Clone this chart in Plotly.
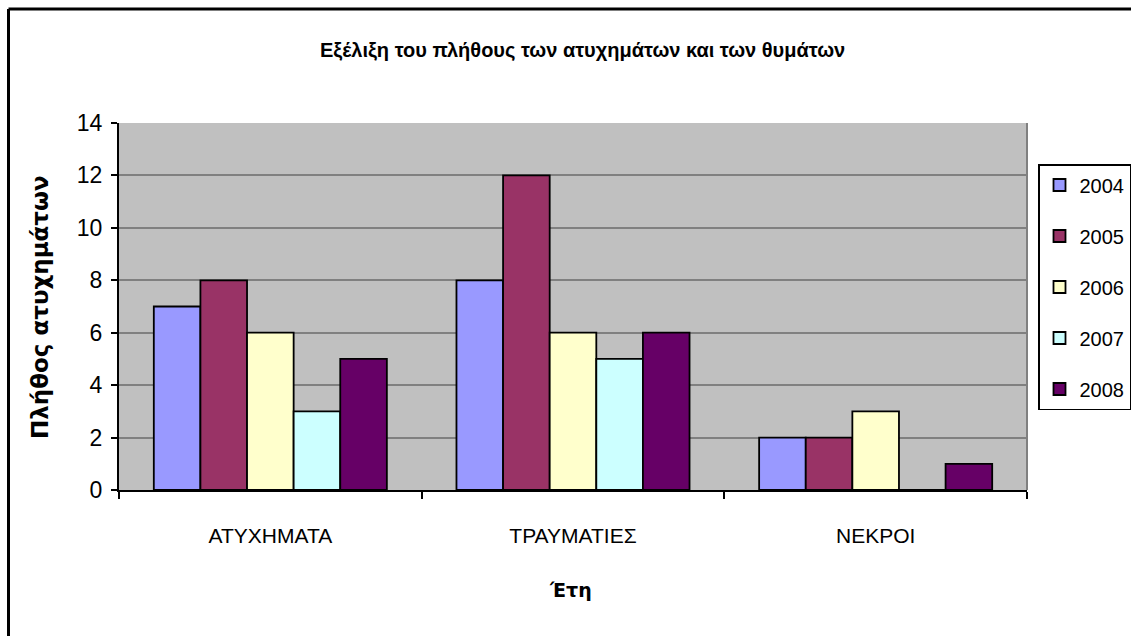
import plotly.graph_objects as go

# Categories and yearly counts
categories = ["ΑΤΥΧΗΜΑΤΑ", "ΤΡΑΥΜΑΤΙΕΣ", "ΝΕΚΡΟΙ"]
years = ["2004", "2005", "2006", "2007", "2008"]
values_2004 = [7, 8, 2]
values_2005 = [8, 12, 2]
values_2006 = [6, 6, 3]
values_2007 = [3, 5, 0]
values_2008 = [5, 6, 1]
year_colors = ["#9999FF", "#993366", "#FFFFCC", "#CCFFFF", "#660066"]
y_ticks = [0, 2, 4, 6, 8, 10, 12, 14]

series = [values_2004, values_2005, values_2006, values_2007, values_2008]

NARROW = "Liberation Sans Narrow, Arial Narrow, Liberation Sans, sans-serif"
WIDE_BOLD = "DejaVu Sans, Verdana, sans-serif"

W, H = 1131, 636
L, R, T, B = 119, 1027, 123, 490

fig = go.Figure()
for year, vals, col in zip(years, series, year_colors):
    fig.add_trace(go.Bar(
        x=categories, y=vals, name=year, legendgroup=year,
        marker=dict(color=col, line=dict(color="black", width=1.8)),
    ))

def px_x(px):
    return (px - L) / (R - L)

def px_y(py):
    return (B - py) / (B - T)

shapes = [
    # right edge of the plot area
    dict(type="line", xref="paper", yref="paper", x0=1, x1=1, y0=0, y1=1,
         line=dict(color="#808080", width=2)),
    # outer chart frame (left and top edges)
    dict(type="line", xref="paper", yref="paper", x0=px_x(8.5), x1=px_x(8.5),
         y0=px_y(9), y1=px_y(640), line=dict(color="black", width=3)),
    dict(type="line", xref="paper", yref="paper", x0=px_x(8.5), x1=px_x(1135),
         y0=px_y(9), y1=px_y(9), line=dict(color="black", width=3)),
]

fig.update_layout(
    width=W, height=H,
    margin=dict(l=L, r=W - R, t=T, b=H - B, pad=0, autoexpand=False),
    paper_bgcolor="white",
    plot_bgcolor="#C0C0C0",
    barmode="group",
    bargap=0.23,
    bargroupgap=0,
    showlegend=True,
    legend=dict(
        x=px_x(1038), y=px_y(164), xanchor="left", yanchor="top",
        bordercolor="black", borderwidth=1.5, bgcolor="white",
        font=dict(family=NARROW, size=20, color="black"),
        tracegroupgap=22, traceorder="grouped",
        itemwidth=30,
    ),
    shapes=shapes,
    annotations=[
        dict(text="<b>Εξέλιξη του πλήθους των ατυχημάτων και των θυμάτων</b>",
             xref="paper", yref="paper", x=px_x(582), y=px_y(50),
             xanchor="center", yanchor="middle", showarrow=False,
             font=dict(family=NARROW, size=20, color="black")),
        dict(text="<b>Πλήθος ατυχημάτων</b>",
             xref="paper", yref="paper", x=px_x(40), y=px_y(307),
             xanchor="center", yanchor="middle", showarrow=False, textangle=-90,
             font=dict(family=WIDE_BOLD, size=23, color="black")),
        dict(text="<b>Έτη</b>",
             xref="paper", yref="paper", x=px_x(570), y=px_y(590),
             xanchor="center", yanchor="middle", showarrow=False,
             font=dict(family=WIDE_BOLD, size=19, color="black")),
    ],
)

fig.update_xaxes(
    type="category",
    showline=True, linecolor="black", linewidth=2,
    ticks="outside", tickson="boundaries", ticklen=7, tickwidth=1.5, tickcolor="black",
    showgrid=False,
    tickfont=dict(family=NARROW, size=21, color="black"),
    ticklabelstandoff=26,
)
fig.update_yaxes(
    range=[0, 14], tickvals=y_ticks,
    showline=True, linecolor="black", linewidth=2,
    ticks="outside", ticklen=6, tickwidth=1.5, tickcolor="black",
    showgrid=True, gridcolor="#808080", gridwidth=2,
    zeroline=False,
    tickfont=dict(family=NARROW, size=23, color="black"),
    ticklabelstandoff=4,
)

fig.write_html("out.html")
